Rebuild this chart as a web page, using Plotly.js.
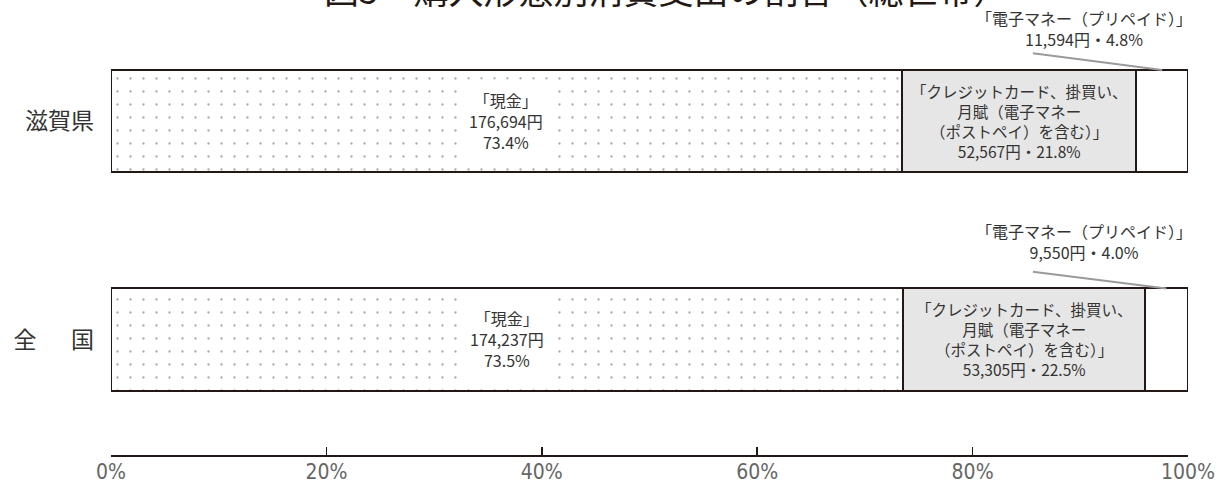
<!DOCTYPE html>
<html>
<head>
<meta charset="utf-8">
<script src="https://cdn.plot.ly/plotly-3.0.1.min.js"></script>
<style>html,body{margin:0;padding:0;background:#fff;}#chart{width:1223px;height:488px;}</style>
</head>
<body>
<div id="chart"></div>
<script>
// ---- data ----
const regions = ['滋賀県', '全\u3000\u2002国'];
const cashPct = [73.4, 73.5];
const creditPct = [21.8, 22.5];
const emoneyPct = [4.8, 4.0];
const cashYen = ['176,694', '174,237'];
const creditYen = ['52,567', '53,305'];
const emoneyYen = ['11,594', '9,550'];
const tickVals = [0, 20, 40, 60, 80, 100];
const tickText = ['0%', '20%', '40%', '60%', '80%', '100%'];
const titleText = '図5　購入形態別消費支出の割合（総世帯）';

const yPos = [1, 0];           // 滋賀県 on top, 全国 below
const barW = 0.467;
const jp = '"Noto Sans CJK JP", "Noto Sans", sans-serif';
const narrow = '"Liberation Sans Narrow", "DejaVu Sans Condensed", "Noto Sans CJK JP", sans-serif';
const outline = {color: '#231815', width: 2};

const traces = [
  {type: 'bar', orientation: 'h', y: yPos, x: cashPct, width: barW, name: '現金',
   marker: {color: '#ffffff', line: outline,
            pattern: {shape: '.', fgcolor: '#a8a8a8', bgcolor: '#ffffff', size: 13, solidity: 0.025}},
   hoverinfo: 'skip'},
  {type: 'bar', orientation: 'h', y: yPos, x: creditPct, width: barW, name: 'クレジット',
   marker: {color: '#e6e6e6', line: outline}, hoverinfo: 'skip'},
  {type: 'bar', orientation: 'h', y: yPos, x: emoneyPct, width: barW, name: '電子マネー',
   marker: {color: '#ffffff', line: outline}, hoverinfo: 'skip'}
];

const annotations = [];
const shapes = [];
const textColor = '#333333';
const emoneyTextY = [0.425, 0.45];
for (let i = 0; i < regions.length; i++) {
  const y = yPos[i];
  const pctFmt = v => v.toFixed(1) + '%';
  annotations.push({
    x: cashPct[i] / 2, y: y, xref: 'x', yref: 'y', showarrow: false,
    text: '「現金」<br>' + cashYen[i] + '円<br>' + pctFmt(cashPct[i]),
    font: {family: jp, size: 16, color: textColor},
    bgcolor: '#ffffff', borderpad: 8, align: 'center'
  });
  annotations.push({
    x: cashPct[i] + creditPct[i] / 2, y: y, xref: 'x', yref: 'y', showarrow: false,
    text: '「クレジットカード、掛買い、<br>月賦（電子マネー<br>（ポストペイ）を含む）」<br>' + creditYen[i] + '円・' + pctFmt(creditPct[i]),
    font: {family: jp, size: 15.5, color: textColor}, align: 'center'
  });
  // e-money callout text above bar
  annotations.push({
    x: 90.3, y: y + emoneyTextY[i], xref: 'x', yref: 'y', showarrow: false,
    text: '「電子マネー（プリペイド）」<br>' + emoneyYen[i] + '円・' + pctFmt(emoneyPct[i]),
    font: {family: jp, size: 16, color: textColor}, align: 'center'
  });
  const segCenter = cashPct[i] + creditPct[i] + emoneyPct[i] / 2;
  shapes.push({
    type: 'line', xref: 'x', yref: 'y',
    x0: 85.6, y0: y + 0.31, x1: segCenter, y1: y + barW / 2,
    line: {color: '#9a9a9a', width: 2}
  });
}

// cut-off title at the very top, as in the reference
annotations.push({
  text: titleText, xref: 'paper', yref: 'paper', x: 0.515, y: 1.072,
  xanchor: 'center', yanchor: 'middle', showarrow: false,
  font: {family: jp, size: 35, color: '#231815'}
});

const layout = {
  width: 1223, height: 488,
  margin: {l: 111, r: 35, t: 20, b: 33},
  paper_bgcolor: '#ffffff', plot_bgcolor: '#ffffff',
  barmode: 'stack', showlegend: false,
  xaxis: {range: [0, 100], tickvals: tickVals, ticktext: tickText,
          showgrid: false, zeroline: false, showline: true, linecolor: '#231815', linewidth: 2,
          ticks: 'inside', ticklen: 8, tickwidth: 1.5, tickcolor: '#231815',
          ticklabelstandoff: -3,
          tickfont: {family: narrow, size: 21, color: '#666666'}, fixedrange: true},
  yaxis: {range: [-0.5286, 1.462], tickvals: yPos, ticktext: regions,
          showgrid: false, zeroline: false, showline: false, ticks: '',
          ticklabelstandoff: 16,
          tickfont: {family: jp, size: 23, color: '#333333'}, fixedrange: true},
  annotations: annotations,
  shapes: shapes
};

Plotly.newPlot('chart', traces, layout, {displayModeBar: false, staticPlot: true});
</script>
</body>
</html>
